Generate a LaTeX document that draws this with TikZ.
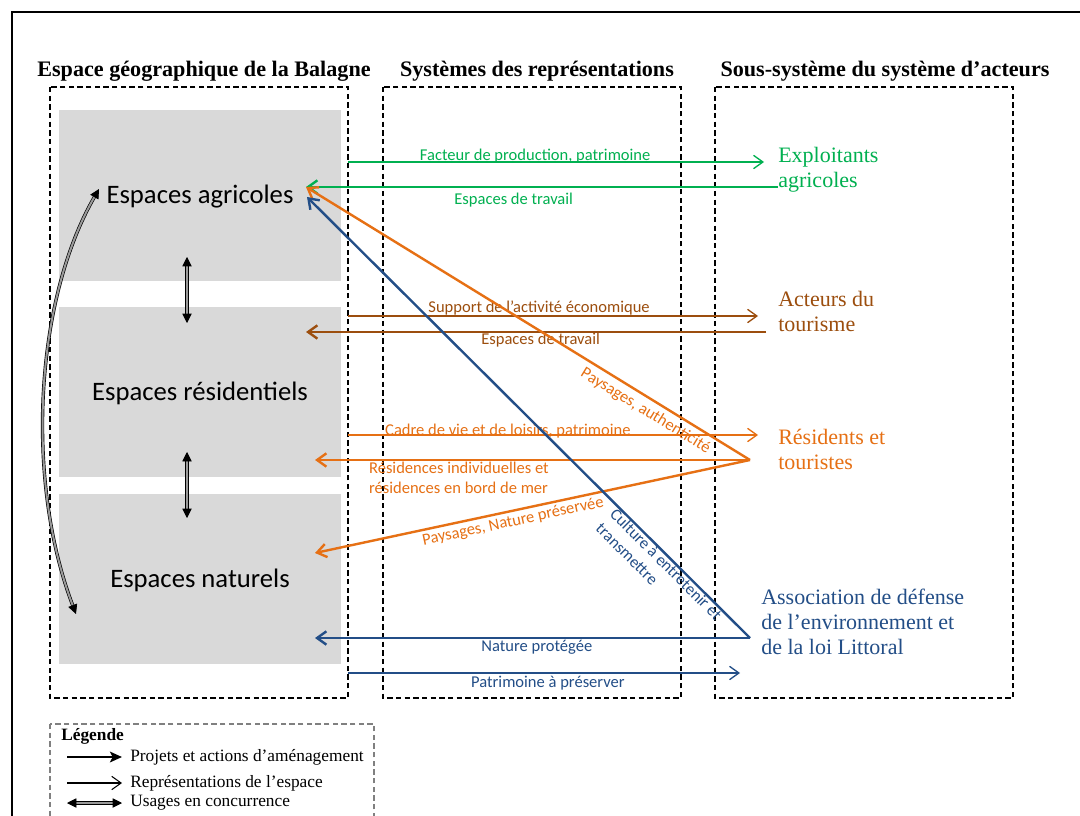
\documentclass[tikz,border=0pt]{standalone}
\usepackage{fontspec}
\setmainfont{Liberation Serif}
\newfontfamily\calib{Carlito}
\usetikzlibrary{arrows.meta}
\definecolor{cgreen}{RGB}{0,176,80}
\definecolor{cbrown}{RGB}{156,78,14}
\definecolor{corange}{RGB}{230,112,20}
\definecolor{cblue}{RGB}{35,78,135}
\definecolor{boxgray}{RGB}{217,217,217}
\begin{document}
\begin{tikzpicture}[x=0.75pt,y=-0.75pt,
  colbox/.style={draw=black, line width=0.8pt, dash pattern=on 4pt off 2.5pt},
  head/.style={font=\bfseries\fontsize{16.6}{20}\selectfont, inner sep=0pt},
  boxlabel/.style={font=\calib\fontsize{20}{24}\selectfont, inner sep=0pt},
  actor/.style={anchor=west, align=left, inner sep=0pt, font=\fontsize{16.5}{18.75}\selectfont},
  lbl/.style={font=\calib\fontsize{12.4}{15}\selectfont, inner sep=0.5pt},
  thn/.style={line width=1pt},
  thk/.style={line width=1.8pt},
  tipE/.style={-{Straight Barb[length=7pt,width=10pt]}},
  tipS/.style={{Straight Barb[length=7pt,width=10pt]}-},
  usage/.style={line width=0.5pt, double=gray!80, double distance=1.5pt,
    {Triangle[length=7pt,width=7pt]}-{Triangle[length=7pt,width=7pt]}},
  legtext/.style={anchor=west, inner sep=0pt, font=\fontsize{13}{15}\selectfont}
]
\clip (0,0) rectangle (1080,816);
\fill[white] (0,0) rectangle (1080,816);
% outer frame
\draw[line width=2pt] (12,830) -- (12,12) -- (1090,12);

% column boxes
\draw[colbox] (50,87) rectangle (348,698);
\draw[colbox] (383,87) rectangle (681,698);
\draw[colbox] (715,87) rectangle (1013,698);

% headings
\node[head] (h1) at (204,71) {Espace géographique de la Balagne};
\node[head] (h2) at (537,71) {Systèmes des représentations};
\node[head] (h3) at (885,71) {Sous-système du système d’acteurs};

% gray boxes
\fill[boxgray] (59,110) rectangle (341,281);
\fill[boxgray] (59,307) rectangle (341,477);
\fill[boxgray] (59,494) rectangle (341,664);
\node[boxlabel] (agr) at (200,197) {Espaces agricoles};
\node[boxlabel] (res) at (200,393) {Espaces résidentiels};
\node[boxlabel] (nat) at (200,580) {Espaces naturels};

% actors
\node[actor, cgreen] (expl) at (778,170) {Exploitants\\agricoles};
\node[actor, cbrown] (tour) at (778,311.5) {Acteurs du\\tourisme};
\node[actor, corange] (resi) at (778,449.5) {Résidents et\\touristes};
\node[actor, cblue] (asso) at (761,622) {Association de défense\\de l’environnement et\\de la loi Littoral};

% coordinates
\coordinate (agrT) at (306,187);
\coordinate (agrB) at (307,197);
\coordinate (resT) at (306,332);
\coordinate (resB) at (315,460);
\coordinate (natT) at (315,553);
\coordinate (natB) at (315,638);
\coordinate (s1) at (348,162);
\coordinate (s2) at (348,316);
\coordinate (s3) at (348,435);
\coordinate (s4) at (348,673);
\coordinate (ex1) at (764,162);
\coordinate (ex2) at (778,187);
\coordinate (ac1) at (758,316);
\coordinate (ac2) at (766,332);
\coordinate (re1) at (758,435);
\coordinate (rP) at (750,460);
\coordinate (aP) at (750,638);
\coordinate (as1) at (740,673);

% green
\draw[thn, tipE, cgreen] (s1) -- node[lbl, pos=0.45, above=-2pt] {Facteur de production, patrimoine} (ex1);
\draw[thk, tipE, cgreen] (ex2) -- node[lbl, pos=0.56, below=3pt] {Espaces de travail} (agrT);
% brown
\draw[thn, tipE, cbrown] (s2) -- node[lbl, pos=0.466, above] {Support de l’activité économique} (ac1);
\draw[thk, tipE, cbrown] (ac2) -- node[lbl, pos=0.49, below, inner sep=0pt] {Espaces de travail} (resT);
% orange
\draw[thn, tipE, corange] (s3) -- node[lbl, pos=0.39, above=-3pt] {Cadre de vie et de loisirs, patrimoine} (re1);
\draw[thk, tipE, corange] (rP) -- node[lbl, pos=0.88, anchor=north west, align=left, font=\calib\fontsize{12.4}{15}\selectfont] {Résidences individuelles et\\résidences en bord de mer} (resB);
\draw[thk, tipS, corange] (agrT) -- node[lbl, pos=0.78, sloped, below=3pt] {Paysages, authenticité} (rP);
\draw[thk, tipS, corange] (natT) -- node[lbl, pos=0.45, sloped, below=1.5pt] {Paysages, Nature préservée} (rP);
% blue
\draw[thk, tipS, cblue] (agrB) -- node[lbl, pos=0.70, sloped, anchor=north west, align=left, inner sep=0pt, font=\calib\fontsize{12.4}{15}\selectfont] {Culture à entretenir et\\transmettre} (aP);
\draw[thk, tipE, cblue] (aP) -- node[lbl, pos=0.49, below] {Nature protégée} (natB);
\draw[thn, tipE, cblue] (s4) -- node[lbl, pos=0.51, below=1pt] {Patrimoine à préserver} (as1);

% usages en concurrence
\coordinate (u1) at (187,257);
\coordinate (u2) at (187,323);
\coordinate (u3) at (187,452);
\coordinate (u4) at (187,518);
\coordinate (cv1) at (99,189);
\coordinate (cv2) at (76,614);
\draw[usage] (u1) -- (u2);
\draw[usage] (u3) -- (u4);
\draw[usage] (cv1) .. controls (35,300) and (25,480) .. (cv2);

% legend
\draw[gray, line width=0.8pt, dash pattern=on 4pt off 2.5pt] (50,724) rectangle (374,830);
\node[legtext, font=\bfseries\fontsize{13}{15}\selectfont] (leg) at (61,736) {Légende};
\coordinate (l1a) at (67,757);
\coordinate (l1b) at (122,757);
\coordinate (l2a) at (67,783);
\coordinate (l2b) at (122,783);
\coordinate (l3a) at (67,803);
\coordinate (l3b) at (122,803);
\draw[line width=1.6pt, -{Stealth[length=9pt,width=8pt,inset=2pt]}] (l1a) -- (l1b);
\draw[line width=0.8pt, -{Straight Barb[length=7pt,width=10pt]}] (l2a) -- (l2b);
\draw[usage] (l3a) -- (l3b);
\node[legtext] (lt1) at (130,757) {Projets et actions d’aménagement};
\node[legtext] (lt2) at (130,783) {Représentations de l’espace};
\node[legtext] (lt3) at (130,803) {Usages en concurrence};
\end{tikzpicture}
\end{document}
